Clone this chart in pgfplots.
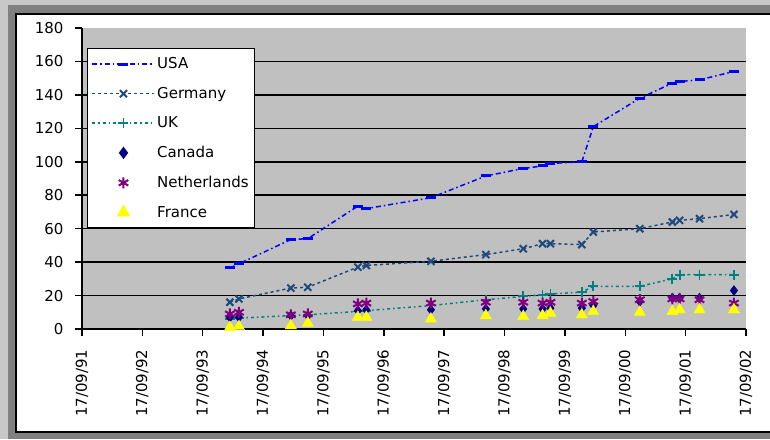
\documentclass[border=0pt]{standalone}
\usepackage{pgfplots}
\pgfplotsset{compat=1.18}
\usepackage{fontspec}
\setmainfont{DejaVu Sans}
\definecolor{usa}{RGB}{0,0,255}
\definecolor{ger}{RGB}{31,73,125}
\definecolor{uk}{RGB}{0,128,128}
\definecolor{can}{RGB}{0,0,128}
\definecolor{ned}{RGB}{128,0,128}
\definecolor{fra}{RGB}{255,255,0}
\definecolor{plotbg}{RGB}{192,192,192}
\definecolor{framedark}{RGB}{128,128,128}
\definecolor{framelight}{RGB}{200,200,200}
\begin{document}
\begin{tikzpicture}
\useasboundingbox (0pt,0pt) rectangle (770pt,439pt);
\fill[framelight] (0pt,0pt) rectangle (770pt,439pt);
\fill[framedark] (8pt,0pt) rectangle (770pt,434pt);
\fill[white] (16pt,7pt) rectangle (775pt,425pt);
\draw[black,line width=2pt] (775pt,7pt) -- (16pt,7pt) -- (16pt,425pt) -- (775pt,425pt);
\begin{axis}[
  at={(82pt,110pt)}, anchor=south west,
  scale only axis, width=664pt, height=301pt,
  xmin=0, xmax=11, ymin=0, ymax=180,
  clip=false,
  axis lines=left,
  axis line style={-, line width=1.5pt, black},
  axis background/.style={fill=plotbg},
  xtick={0,...,11},
  xticklabels={17/09/91,17/09/92,17/09/93,17/09/94,17/09/95,17/09/96,17/09/97,17/09/98,17/09/99,17/09/00,17/09/01,17/09/02},
  ytick={0,20,...,180},
  tick align=outside, major tick length=7pt,
  tick style={black, line width=1.5pt},
  xticklabel style={rotate=90, anchor=east, font=\fontsize{15}{18}\selectfont, xshift=-10pt},
  yticklabel style={font=\fontsize{15}{18}\selectfont, xshift=-8pt},
  /pgf/number format/assume math mode=true,
  extra y ticks={20,40,...,160}, extra y tick labels={},
  extra y tick style={grid=major, major grid style={black, line width=1.5pt}, major tick length=0pt},
  legend style={at={(0.0075,0.9336)}, anchor=north west, draw=black, line width=1.5pt, fill=white,
    font=\fontsize{15}{18}\selectfont, row sep=13pt, inner xsep=4pt, inner ysep=7pt},
  legend cell align=left,
  legend image code/.code={\draw[mark repeat=2,mark phase=2,#1] plot coordinates {(0pt,0pt) (31pt,0pt) (62pt,0pt)};},
]
\addplot[usa, line width=1.5pt, dash pattern=on 5pt off 3pt on 1.5pt off 3pt, mark=-, mark size=5pt, mark options={solid, line width=3pt}] coordinates {
(2.45,36.5) (2.60,39) (3.46,53.5) (3.74,54) (4.57,73.5) (4.71,72) (5.78,78.5) (6.69,91.5) (7.31,96) (7.63,97.5) (7.76,99) (8.28,100) (8.47,121) (9.24,138) (9.78,147) (9.90,148) (10.23,149) (10.80,154)};
\addlegendentry{USA}
\addplot[ger, line width=1.5pt, dash pattern=on 3pt off 3pt, mark=x, mark size=5pt, mark options={solid, line width=2pt}] coordinates {
(2.45,16) (2.60,18) (3.46,24.5) (3.74,25) (4.57,37) (4.71,38) (5.78,40.5) (6.69,44.5) (7.31,48) (7.63,51) (7.76,51) (8.28,50.5) (8.47,58) (9.24,60) (9.78,64) (9.90,65) (10.23,66) (10.80,68.5)};
\addlegendentry{Germany}
\addplot[uk, line width=1.5pt, dash pattern=on 3pt off 3pt on 1.5pt off 3pt, mark=+, mark size=5pt, mark options={solid, line width=1.8pt}] coordinates {
(2.45,6) (2.60,6.5) (3.46,8) (3.74,8.5) (4.57,10.5) (4.71,11) (5.78,14) (6.69,17.5) (7.31,19.5) (7.63,20.5) (7.76,21) (8.28,22) (8.47,25.5) (9.24,25.5) (9.78,30) (9.90,32.5) (10.23,32.5) (10.80,32.5)};
\addlegendentry{UK}
\addplot[only marks, can, mark=diamond*, mark size=5pt] coordinates {
(2.45,7) (2.60,7) (3.46,8) (3.74,8) (4.57,11) (4.71,11.5) (5.78,11.5) (6.69,12) (7.31,12) (7.63,12) (7.76,12.5) (8.28,12.5) (8.47,14) (9.24,16.5) (9.78,18.5) (9.90,18.5) (10.23,18.5) (10.80,23)};
\addlegendentry{Canada}
\addplot[only marks, ned, mark=asterisk, mark size=5.5pt, mark options={line width=2pt}] coordinates {
(2.45,9) (2.60,10) (3.46,8.5) (3.74,9) (4.57,15) (4.71,15.5) (5.78,15.5) (6.69,16) (7.31,16) (7.63,15.5) (7.76,16) (8.28,15.5) (8.47,16.5) (9.24,17.5) (9.78,18) (9.90,18) (10.23,17.5) (10.80,15.5)};
\addlegendentry{Netherlands}
\addplot[only marks, fra, mark=triangle*, mark size=6.5pt] coordinates {
(2.45,1) (2.60,1.5) (3.46,2) (3.74,3.5) (4.57,7) (4.71,7) (5.78,6) (6.69,8) (7.31,7.5) (7.63,8) (7.76,9.5) (8.28,8.5) (8.47,10.5) (9.24,10) (9.78,10.5) (9.90,11.5) (10.23,11.5) (10.80,11.5)};
\addlegendentry{France}
\end{axis}
\end{tikzpicture}
\end{document}
